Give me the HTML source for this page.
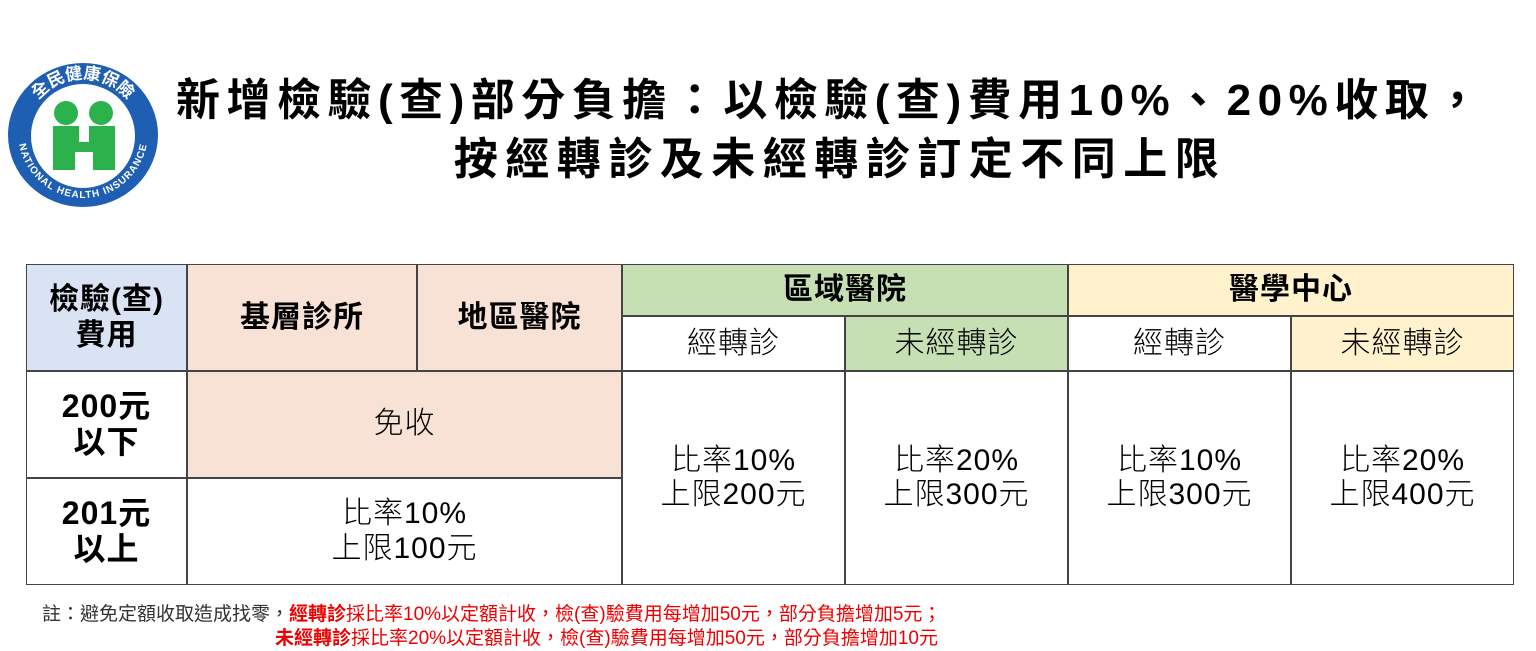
<!DOCTYPE html>
<html><head><meta charset="utf-8"><style>
body{margin:0;width:1536px;height:651px;background:#fff;position:relative;overflow:hidden;font-family:"Liberation Sans","Noto Sans CJK TC",sans-serif;color:#000}
.c{position:absolute;box-sizing:border-box;display:flex;align-items:center;justify-content:center;text-align:center;line-height:1.2;font-weight:300}
.b{font-weight:bold;letter-spacing:1px}
.t{position:absolute;font-weight:bold;font-size:44px;white-space:nowrap;letter-spacing:6.5px}
.v{font-size:30px;letter-spacing:1px;line-height:1.15}
.h{font-size:30px;letter-spacing:1px}
</style></head><body>
<svg style="position:absolute;left:4px;top:60px" width="158" height="150" viewBox="0 0 158 150">
<defs>
<path id="top" d="M22 75 A57 56 0 0 1 136 75"/>
<path id="bot" d="M14 72 A65 66 0 0 0 144 72"/>
</defs>
<ellipse cx="79" cy="75" rx="75" ry="72" fill="#1e5fb4"/>
<ellipse cx="79" cy="76" rx="52" ry="52" fill="#fff"/>
<text font-size="17" fill="#fff" font-weight="bold" font-family="Noto Sans CJK TC"><textPath href="#top" startOffset="50%" text-anchor="middle">全民健康保險</textPath></text>
<text font-size="10" fill="#fff" font-weight="bold" letter-spacing="1"><textPath href="#bot" startOffset="50%" text-anchor="middle">NATIONAL HEALTH INSURANCE</textPath></text>
<circle cx="62" cy="53" r="12" fill="#2bb24c"/><circle cx="97" cy="53" r="12" fill="#2bb24c"/>
<path d="M49 66h26v16h10v-16h26v44h-22v-18h-18v18h-22z" fill="#2bb24c"/>
</svg>
<div class="t" style="left:176px;top:64px">新增檢驗(查)部分負擔：以檢驗(查)費用10%、20%收取，</div>
<div class="t" style="left:440px;width:800px;text-align:center;top:123px;letter-spacing:7.5px">按經轉診及未經轉診訂定不同上限</div>

<div style="position:absolute;left:26px;top:264px;width:1488px;height:321px;border:1.5px solid #333;box-sizing:border-box"></div>
<div class="c b h" style="left:26px;top:264px;width:161px;height:107px;background:#dae3f3;border:1px solid #444;line-height:1.2">檢驗(查)<br>費用</div>
<div class="c b h" style="left:187px;top:264px;width:230px;height:107px;background:#f8e1d5;border:1px solid #444">基層診所</div>
<div class="c b h" style="left:417px;top:264px;width:205px;height:107px;background:#f8e1d5;border:1px solid #444">地區醫院</div>
<div class="c b h" style="left:622px;top:264px;width:446px;height:52px;background:#c6e0b4;border:1px solid #444">區域醫院</div>
<div class="c b h" style="left:1068px;top:264px;width:446px;height:52px;background:#fff2cc;border:1px solid #444">醫學中心</div>
<div class="c h" style="left:622px;top:316px;width:223px;height:55px;border:1px solid #444">經轉診</div>
<div class="c h" style="left:845px;top:316px;width:223px;height:55px;background:#c6e0b4;border:1px solid #444">未經轉診</div>
<div class="c h" style="left:1068px;top:316px;width:223px;height:55px;border:1px solid #444">經轉診</div>
<div class="c h" style="left:1291px;top:316px;width:223px;height:55px;background:#fff2cc;border:1px solid #444">未經轉診</div>
<div class="c b" style="left:26px;top:371px;width:161px;height:107px;border:1px solid #444;font-size:32px;line-height:1.1">200元<br>以下</div>
<div class="c b" style="left:26px;top:478px;width:161px;height:107px;border:1px solid #444;font-size:32px;line-height:1.1">201元<br>以上</div>
<div class="c v" style="left:187px;top:371px;width:435px;height:107px;background:#f8e1d5;border:1px solid #444">免收</div>
<div class="c v" style="left:187px;top:478px;width:435px;height:107px;border:1px solid #444">比率10%<br>上限100元</div>
<div class="c v" style="left:622px;top:371px;width:223px;height:214px;border:1px solid #444">比率10%<br>上限200元</div>
<div class="c v" style="left:845px;top:371px;width:223px;height:214px;border:1px solid #444">比率20%<br>上限300元</div>
<div class="c v" style="left:1068px;top:371px;width:223px;height:214px;border:1px solid #444">比率10%<br>上限300元</div>
<div class="c v" style="left:1291px;top:371px;width:223px;height:214px;border:1px solid #444">比率20%<br>上限400元</div>

<div style="position:absolute;left:42px;top:599px;font-size:19px;white-space:nowrap;color:#333">註：避免定額收取造成找零，<span style="color:#e00"><b>經轉診</b>採比率10%以定額計收，檢(查)驗費用每增加50元，部分負擔增加5元；</span></div>
<div style="position:absolute;left:275px;top:623px;font-size:19px;white-space:nowrap;color:#e00"><b>未經轉診</b>採比率20%以定額計收，檢(查)驗費用每增加50元，部分負擔增加10元</div>
</body></html>
